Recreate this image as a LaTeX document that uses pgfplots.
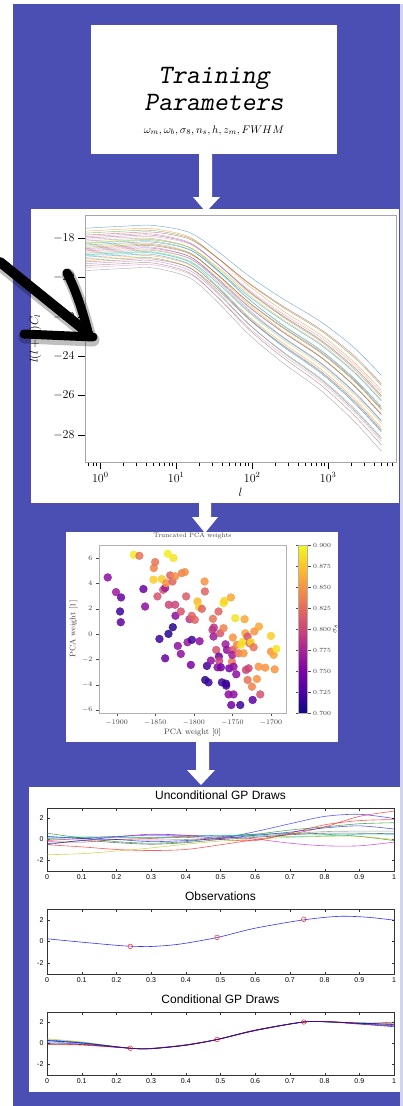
\RequirePackage{fix-cm}
\documentclass[border=0pt]{standalone}
\usepackage{fontspec}
\usepackage{pgfplots}
\pgfplotsset{compat=1.18}
\usepackage{pgfplotstable}
\newfontfamily\helv{Liberation Sans}

\definecolor{bgblue}{RGB}{75,79,180}
\definecolor{tabA}{HTML}{1F77B4}
\definecolor{tabB}{HTML}{FF7F0E}
\definecolor{tabC}{HTML}{2CA02C}
\definecolor{tabD}{HTML}{D62728}
\definecolor{tabE}{HTML}{9467BD}
\definecolor{tabF}{HTML}{8C564B}
\definecolor{tabG}{HTML}{E377C2}
\definecolor{tabH}{HTML}{7F7F7F}
\definecolor{tabI}{HTML}{BCBD22}
\definecolor{tabJ}{HTML}{17BECF}
\definecolor{mblue}{rgb}{0,0,1}
\definecolor{mgreen}{rgb}{0,0.5,0}
\definecolor{mred}{rgb}{1,0,0}
\definecolor{mcyan}{rgb}{0,0.75,0.75}
\definecolor{mmag}{rgb}{0.75,0,0.75}
\definecolor{myel}{rgb}{0.75,0.75,0}
\definecolor{mgray}{rgb}{0.5,0.5,0.5}
\definecolor{mdark}{rgb}{0.1,0.25,0.25}

% power spectra, one column per training cosmology
\pgfplotstableread{
l c1 c2 c3 c4 c5 c6 c7 c8 c9 c10 c11 c12 c13 c14 c15 c16 c17 c18 c19 c20 c21 c22 c23 c24 c25 c26 c27 c28 c29 c30
0.65 -17.50 -17.65 -17.75 -17.85 -17.93 -18.00 -18.07 -18.15 -18.22 -18.28 -18.35 -18.41 -18.47 -18.53 -18.59 -18.65 -18.71 -18.77 -18.83 -18.90 -18.97 -19.05 -19.13 -19.21 -19.30 -19.40 -19.50 -19.65 -18.25 -18.85
2 -17.40 -17.55 -17.65 -17.75 -17.83 -17.90 -17.97 -18.05 -18.12 -18.18 -18.25 -18.31 -18.37 -18.43 -18.49 -18.55 -18.61 -18.67 -18.73 -18.80 -18.87 -18.95 -19.03 -19.11 -19.20 -19.30 -19.40 -19.55 -18.15 -18.75
5 -17.36 -17.53 -17.62 -17.70 -17.80 -17.86 -17.93 -18.03 -18.08 -18.15 -18.21 -18.28 -18.34 -18.39 -18.47 -18.52 -18.58 -18.63 -18.70 -18.76 -18.84 -18.91 -19.01 -19.07 -19.16 -19.27 -19.36 -19.52 -18.10 -18.73
15 -17.72 -17.95 -18.00 -18.06 -18.23 -18.27 -18.31 -18.48 -18.48 -18.58 -18.60 -18.74 -18.76 -18.80 -18.94 -18.94 -19.04 -19.04 -19.15 -19.19 -19.33 -19.36 -19.51 -19.51 -19.64 -19.77 -19.83 -20.02 -18.48 -19.23
35 -18.67 -19.02 -19.00 -19.02 -19.31 -19.32 -19.31 -19.61 -19.52 -19.67 -19.62 -19.88 -19.84 -19.86 -20.10 -20.03 -20.19 -20.10 -20.29 -20.28 -20.52 -20.49 -20.74 -20.62 -20.81 -21.00 -20.99 -21.25 -19.47 -20.44
90 -19.92 -20.41 -20.30 -20.28 -20.71 -20.69 -20.63 -21.09 -20.88 -21.11 -20.96 -21.37 -21.27 -21.25 -21.63 -21.47 -21.70 -21.51 -21.79 -21.74 -22.10 -21.99 -22.36 -22.11 -22.38 -22.63 -22.55 -22.89 -20.77 -22.03
250 -21.07 -21.68 -21.50 -21.44 -21.99 -21.93 -21.83 -22.42 -22.12 -22.40 -22.18 -22.70 -22.55 -22.51 -23.00 -22.76 -23.04 -22.77 -23.13 -23.03 -23.49 -23.32 -23.79 -23.42 -23.75 -24.05 -23.91 -24.32 -21.96 -23.44
800 -22.25 -22.92 -22.71 -22.64 -23.25 -23.18 -23.06 -23.72 -23.37 -23.69 -23.43 -24.02 -23.84 -23.79 -24.33 -24.06 -24.38 -24.06 -24.47 -24.35 -24.86 -24.66 -25.19 -24.77 -25.13 -25.46 -25.29 -25.74 -23.19 -24.81
2200 -23.57 -24.31 -24.07 -23.98 -24.66 -24.57 -24.43 -25.16 -24.77 -25.12 -24.83 -25.48 -25.27 -25.22 -25.81 -25.51 -25.86 -25.50 -25.95 -25.81 -26.37 -26.15 -26.73 -26.26 -26.65 -27.01 -26.82 -27.31 -24.57 -26.33
5000 -24.97 -25.72 -25.48 -25.40 -26.08 -25.99 -25.86 -26.59 -26.21 -26.55 -26.27 -26.92 -26.72 -26.67 -27.27 -26.97 -27.31 -26.96 -27.41 -27.28 -27.84 -27.63 -28.21 -27.74 -28.14 -28.50 -28.32 -28.82 -26.01 -27.80
}\cltab

% PCA weights and sigma_8
\pgfplotstableread{
x y c
-1911.7 4.47 0.760
-1900.9 3.31 0.770
-1894.4 2.89 0.740
-1895.7 1.78 0.720
-1894.8 0.93 0.735
-1877.9 6.26 0.895
-1870.6 6.18 0.830
-1865.4 3.55 0.740
-1863.2 2.17 0.760
-1851.9 5.21 0.840
-1850.2 5.68 0.830
-1852.4 4.29 0.880
-1847.2 2.97 0.810
-1841.6 4.34 0.880
-1844.6 -0.39 0.720
-1839.8 3.49 0.810
-1837.2 3.63 0.770
-1837.2 -1.92 0.740
-1832.9 0.01 0.710
-1832.5 2.31 0.800
-1833.8 6.34 0.895
-1826.4 6.00 0.890
-1830.7 4.63 0.820
-1835.9 4.02 0.850
-1827.7 4.15 0.820
-1824.2 4.55 0.845
-1824.2 2.31 0.800
-1827.3 0.54 0.710
-1823.8 1.44 0.760
-1820.8 -0.94 0.760
-1816.9 -1.57 0.760
-1816.9 1.78 0.810
-1815.6 4.81 0.840
-1811.7 4.89 0.845
-1810.0 2.97 0.815
-1808.2 -0.65 0.765
-1805.6 1.17 0.790
-1802.6 -0.46 0.720
-1803.9 -2.44 0.750
-1802.6 1.44 0.820
-1798.7 1.12 0.820
-1795.2 2.57 0.870
-1793.5 2.12 0.885
-1792.6 -0.57 0.760
-1789.6 1.99 0.820
-1786.1 4.15 0.850
-1785.7 3.36 0.820
-1783.1 -2.52 0.720
-1785.3 -3.63 0.710
-1781.0 -3.82 0.720
-1777.9 -2.10 0.760
-1775.8 0.33 0.790
-1774.5 -0.20 0.770
-1775.3 1.20 0.830
-1774.0 0.51 0.790
-1771.0 -1.26 0.810
-1769.3 -2.63 0.760
-1767.5 -1.78 0.740
-1767.1 -2.13 0.800
-1768.0 1.78 0.820
-1765.8 0.06 0.810
-1764.9 -2.63 0.745
-1763.6 -3.82 0.720
-1761.5 2.44 0.890
-1760.2 2.62 0.885
-1761.5 0.46 0.840
-1758.9 -0.81 0.770
-1758.4 -3.92 0.710
-1758.0 -4.08 0.720
-1757.1 -1.26 0.760
-1755.0 -4.77 0.760
-1754.1 -2.71 0.750
-1751.9 2.89 0.860
-1750.6 -2.18 0.830
-1749.8 -1.26 0.810
-1750.2 -1.65 0.770
-1749.4 -0.28 0.850
-1748.5 -2.58 0.760
-1748.5 -4.77 0.760
-1751.5 -5.61 0.745
-1746.3 1.25 0.890
-1745.0 -3.18 0.760
-1744.2 -0.86 0.840
-1742.0 -1.52 0.830
-1739.8 -5.61 0.720
-1739.0 -0.86 0.890
-1736.4 -0.60 0.885
-1735.5 -1.52 0.850
-1734.2 1.17 0.860
-1733.3 0.06 0.860
-1732.5 -2.84 0.800
-1730.3 -3.63 0.830
-1730.3 -0.20 0.810
-1729.0 -2.71 0.800
-1727.7 -0.73 0.820
-1726.0 -0.65 0.885
-1724.7 -4.16 0.840
-1723.8 -5.21 0.735
-1722.5 -1.05 0.830
-1721.6 0.20 0.850
-1718.2 -3.55 0.850
-1715.6 0.59 0.860
-1713.9 -4.77 0.810
-1716.0 -2.58 0.850
-1707.4 -2.66 0.850
-1700.0 -1.39 0.850
-1700.0 -0.15 0.880
-1696.5 -1.65 0.860
-1695.2 -2.79 0.850
-1693.1 -1.18 0.890
}\pcatab

% unconditional GP draws
\pgfplotstableread{
x b1 r1 r2 g1 g2 y1 m1 c1 k1 t1 b2
0.0 -0.40 -0.50 -0.20 0.60 0.10 -1.45 -0.10 0.20 0.00 -0.50 0.30
0.1 -0.10 -0.70 -0.25 0.15 0.20 -1.35 0.10 0.25 0.05 -0.10 0.10
0.2 0.25 -0.95 0.00 -0.20 0.25 -1.10 0.30 0.20 0.00 -0.30 0.00
0.3 0.50 -1.05 0.10 -0.35 0.20 -0.80 0.40 0.15 -0.05 -0.45 -0.20
0.4 0.40 -0.95 0.20 -0.20 0.30 -0.45 0.40 0.30 0.00 -0.30 -0.10
0.5 0.15 -0.50 0.00 0.20 0.35 -0.15 0.30 0.40 0.10 0.00 0.10
0.6 0.75 0.00 -0.10 0.50 0.50 0.05 0.05 0.35 0.30 0.20 0.40
0.7 1.50 0.50 0.60 0.90 0.55 0.20 -0.35 0.30 0.55 0.45 0.70
0.8 2.20 1.20 1.40 1.20 0.50 0.30 -0.60 0.35 0.75 0.60 1.10
0.9 2.40 2.20 1.80 1.50 0.30 0.30 -0.60 0.50 0.80 0.60 1.30
1.0 2.00 2.70 1.90 1.60 -0.10 0.00 -0.25 0.50 0.80 0.55 1.00
}\uncond

\pgfplotstableread{
x y
0.00 0.25
0.10 -0.06
0.20 -0.35
0.24 -0.43
0.30 -0.46
0.38 -0.25
0.49 0.37
0.60 1.23
0.74 2.00
0.84 2.32
0.92 2.25
1.00 1.97
}\obscurve

\pgfplotstableread{
x y
0.24 -0.45
0.49 0.38
0.74 2.05
}\obspts

% conditional GP draws
\pgfplotstableread{
x k1 k2 k3 k4 k5 k6 k7 k8
0.00 0.45 0.35 0.25 0.15 0.05 -0.05 -0.10 0.30
0.10 0.15 0.10 0.05 0.00 -0.05 -0.10 -0.15 0.05
0.24 -0.45 -0.45 -0.45 -0.45 -0.45 -0.45 -0.45 -0.45
0.30 -0.50 -0.48 -0.47 -0.46 -0.49 -0.50 -0.47 -0.48
0.40 -0.15 -0.14 -0.16 -0.13 -0.17 -0.15 -0.12 -0.16
0.49 0.38 0.38 0.38 0.38 0.38 0.38 0.38 0.38
0.60 1.27 1.25 1.24 1.26 1.23 1.28 1.25 1.24
0.74 2.05 2.05 2.05 2.05 2.05 2.05 2.05 2.05
0.82 2.08 2.05 2.06 2.03 2.07 2.04 2.06 2.05
0.90 1.95 1.90 1.85 1.98 1.88 1.92 1.87 1.95
1.00 1.75 1.65 1.60 1.95 1.70 1.85 2.05 1.80
}\cond

\pgfplotsset{
  gpstyle/.style={
    scale only axis, anchor=north west, width=347pt,
    xmin=0, xmax=1, ymin=-3, ymax=3,
    xtick={0,0.1,0.2,0.3,0.4,0.5,0.6,0.7,0.8,0.9,1},
    xticklabels={0,0.1,0.2,0.3,0.4,0.5,0.6,0.7,0.8,0.9,1},
    ytick={-2,0,2}, yticklabels={-2,0,2},
    tick align=inside, major tick length=2.5pt,
    axis line style={black!80, line width=0.5pt},
    tick style={black!80},
    tick label style={font=\helv\fontsize{7}{8}\selectfont},
    title style={font=\helv\fontsize{12}{13}\selectfont, yshift=-1pt},
  },
  gpline/.style={smooth, line width=0.6pt, mark=none},
  obsmark/.style={only marks, mark=o, mark size=2.3pt, mred, opacity=0.85, line width=0.5pt},
}

\begin{document}
\begin{tikzpicture}
\useasboundingbox (0pt,0pt) rectangle (403pt,-1106pt);
\begin{scope}[x=1pt,y=-1pt]
  \fill[white] (0,0) rectangle (403,1106);
  \fill[bgblue] (13,4) rectangle (400,1106);
  \fill[bgblue!25] (400,4) rectangle (403,1106);
  % boxes
  \fill[white] (91,25) rectangle (337,154);
  \fill[white] (31,209) rectangle (399,503);
  \fill[white] (66,532) rectangle (338,742);
  \fill[white] (29,787) rectangle (400,1092);
  % arrows
  \fill[white] (199,154) -- (212,154) -- (212,197) -- (220,197) -- (206,212) -- (193,197) -- (199,197) -- cycle;
  \fill[white] (199,503) -- (211,503) -- (211,517) -- (218,517) -- (205,533) -- (192,517) -- (199,517) -- cycle;
  \fill[white] (196,742) -- (209,742) -- (209,770) -- (215,770) -- (201,785) -- (187,770) -- (196,770) -- cycle;
  % title box
  \node[anchor=base, font=\fontsize{26.5}{28}\selectfont\ttfamily\slshape] at (214,83) {Training};
  \node[anchor=base, font=\fontsize{26.5}{28}\selectfont\ttfamily\slshape] at (214,110) {Parameters};
  \node[anchor=base, font=\fontsize{11}{13}\selectfont] at (214,133) {$\omega_m,\omega_b,\sigma_8,n_s,h,z_m,FWHM$};
\end{scope}

\begin{axis}[
  at={(85pt,-215pt)}, anchor=north west, scale only axis,
  width=311pt, height=247pt,
  xmode=log, xmin=0.63, xmax=7800, ymin=-29.37, ymax=-16.83,
  ytick={-28,-26,-24,-22,-20,-18},
  tick pos=left, tick align=outside,
  axis line style={black!35},
  major tick length=7pt, minor tick length=4pt,
  tick style={black, line width=0.6pt},
  tick label style={font=\fontsize{12}{14}\selectfont},
  xlabel={$l$}, ylabel={$l(l+1)C_l$},
  label style={font=\fontsize{12}{14}\selectfont},
  ylabel style={at={(axis description cs:-0.16,0.5)}, anchor=center},
  xlabel style={at={(axis description cs:0.5,-0.121)}, anchor=center},
  cycle list={{tabA},{tabB},{tabC},{tabD},{tabE},{tabF},{tabG},{tabH},{tabI},{tabJ}},
  every axis plot/.append style={line width=0.45pt, opacity=0.6, smooth, no markers},
]
\pgfplotsinvokeforeach{1,...,30}{\addplot table[x=l,y=c#1]{\cltab};}
\end{axis}

\begin{axis}[
  at={(99pt,-545pt)}, anchor=north west, scale only axis,
  width=187pt, height=168pt,
  xmin=-1923, xmax=-1680.5, ymin=-6.24, ymax=7.03,
  xtick={-1900,-1850,-1800,-1750,-1700}, ytick={-6,-4,-2,0,2,4,6},
  scaled ticks=false, /pgf/number format/1000 sep={},
  tick pos=left, tick align=outside,
  axis line style={black!30}, major tick length=3pt,
  tick style={black!70},
  tick label style={font=\fontsize{7}{8}\selectfont, text=black!75},
  xlabel={PCA weight [0]}, ylabel={PCA weight [1]},
  label style={font=\fontsize{8}{9}\selectfont, text=black!75},
  xlabel style={yshift=3pt}, ylabel style={yshift=-2pt},
  title={Truncated PCA weights},
  title style={font=\fontsize{6.5}{7}\selectfont, text=black!75, yshift=-3pt},
  colormap={plasma}{rgb255=(13,8,135) rgb255=(75,3,161) rgb255=(125,3,168) rgb255=(168,34,150) rgb255=(203,70,121) rgb255=(229,107,93) rgb255=(248,148,65) rgb255=(253,195,40) rgb255=(240,249,33)},
  colorbar, point meta min=0.7, point meta max=0.9,
  colorbar style={
    at={(parent axis.north east)}, anchor=north west, xshift=4pt,
    width=9pt,
    ytick={0.7,0.725,0.75,0.775,0.8,0.825,0.85,0.875,0.9},
    yticklabel={\pgfmathprintnumber[fixed,fixed zerofill,precision=3]{\tick}},
    yticklabel style={font=\fontsize{6.3}{7}\selectfont, text=black!75, xshift=-1pt},
    axis line style={black!30}, tick style={black!70},
    major tick length=3pt, tick align=outside,
  },
]
\addplot[scatter, only marks, mark=*, mark size=3.9pt, scatter src=explicit,
  opacity=0.85, scatter/use mapped color={draw=mapped color, fill=mapped color}]
  table[x=x,y=y,meta=c]{\pcatab};
\end{axis}

\begin{axis}[gpstyle, at={(47pt,-808pt)}, height=63pt, title={Unconditional GP Draws}]
\addplot[gpline, mblue, opacity=0.65] table[x=x,y=b1]{\uncond};
\addplot[gpline, mred, opacity=0.65] table[x=x,y=r1]{\uncond};
\addplot[gpline, mred, opacity=0.65] table[x=x,y=r2]{\uncond};
\addplot[gpline, mgreen, opacity=0.65] table[x=x,y=g1]{\uncond};
\addplot[gpline, mgreen, opacity=0.65] table[x=x,y=g2]{\uncond};
\addplot[gpline, myel, opacity=0.65] table[x=x,y=y1]{\uncond};
\addplot[gpline, mmag, opacity=0.65] table[x=x,y=m1]{\uncond};
\addplot[gpline, mcyan, opacity=0.65] table[x=x,y=c1]{\uncond};
\addplot[gpline, mgray, opacity=0.65] table[x=x,y=k1]{\uncond};
\addplot[gpline, mdark, opacity=0.65] table[x=x,y=t1]{\uncond};
\addplot[gpline, mblue, opacity=0.65] table[x=x,y=b2]{\uncond};
\end{axis}

\begin{axis}[gpstyle, at={(47pt,-909pt)}, height=65pt, title={Observations}]
\addplot[gpline, mblue, opacity=0.8] table[x=x,y=y]{\obscurve};
\addplot[obsmark] table[x=x,y=y]{\obspts};
\end{axis}

\begin{axis}[gpstyle, at={(47pt,-1012pt)}, height=63pt, title={Conditional GP Draws}]
\addplot[gpline, myel, opacity=0.7] table[x=x,y=k1]{\cond};
\addplot[gpline, mgreen, opacity=0.7] table[x=x,y=k2]{\cond};
\addplot[gpline, mblue, opacity=0.7] table[x=x,y=k3]{\cond};
\addplot[gpline, mcyan, opacity=0.7] table[x=x,y=k4]{\cond};
\addplot[gpline, mmag, opacity=0.7] table[x=x,y=k5]{\cond};
\addplot[gpline, black, opacity=0.7] table[x=x,y=k6]{\cond};
\addplot[gpline, mred, opacity=0.7] table[x=x,y=k7]{\cond};
\addplot[gpline, mblue, opacity=0.7] table[x=x,y=k8]{\cond};
\addplot[obsmark] table[x=x,y=y]{\obspts};
\end{axis}

\begin{scope}[x=1pt,y=-1pt, line cap=round, line join=round]
  % colour bar label
  \node[rotate=90, font=\fontsize{7.5}{9}\selectfont, text=black!75] at (335.5,629) {$\sigma_8$};
  % hand-drawn arrow pointing at the y label
  \draw[black, opacity=0.25, line width=13pt] (2,266) -- (89,336) (68,275) .. controls (77,292) and (84,315) .. (90,338) (25,337) -- (93,340);
  \draw[black, line width=10pt] (0,262) -- (88,333);
  \draw[black, line width=9pt] (67,273) .. controls (76,290) and (84,315) .. (89,336);
  \draw[black, line width=9pt] (24,334) -- (93,337);
\end{scope}
\end{tikzpicture}
\end{document}
